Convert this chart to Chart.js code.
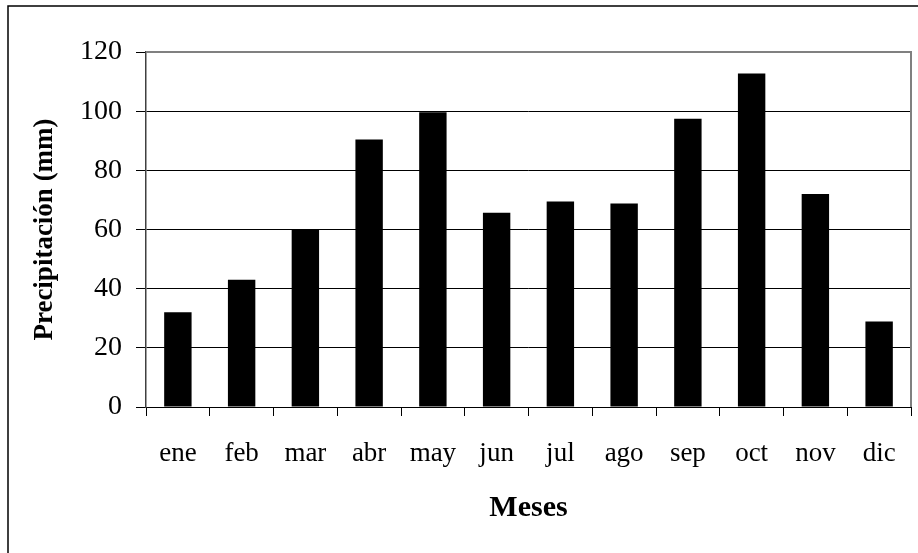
<!DOCTYPE html>
<html>
<head>
<meta charset="utf-8">
<style>
  html, body { margin: 0; padding: 0; background: #fff; }
  #chart { display: block; }
</style>
<script src="https://cdn.jsdelivr.net/npm/chart.js@4"></script>
</head>
<body>
<canvas id="chart" width="918" height="553"></canvas>
<script>
const meses = ['ene', 'feb', 'mar', 'abr', 'may', 'jun', 'jul', 'ago', 'sep', 'oct', 'nov', 'dic'];
const precipitacion = [32, 43, 60, 90.4, 99.6, 65.7, 69.5, 68.8, 97.4, 112.7, 72, 28.9];
const yTicks = [0, 20, 40, 60, 80, 100, 120];

const serif = "'Liberation Serif', 'Times New Roman', serif";

// outer black frame (cropped on right/bottom) and grey plot frame
const frames = {
  id: 'frames',
  beforeDraw(chart) {
    const ctx = chart.ctx;
    ctx.save();
    ctx.fillStyle = '#fff';
    ctx.fillRect(0, 0, chart.width, chart.height);
    ctx.strokeStyle = '#000';
    ctx.lineWidth = 1.5;
    ctx.beginPath();
    ctx.moveTo(8, chart.height + 5);
    ctx.lineTo(8, 6);
    ctx.lineTo(chart.width + 5, 6);
    ctx.stroke();
    ctx.restore();
  },
  afterDatasetsDraw(chart) {
    const a = chart.chartArea;
    const ctx = chart.ctx;
    ctx.save();
    ctx.strokeStyle = '#808080';
    ctx.lineWidth = 2;
    ctx.beginPath();
    ctx.moveTo(a.left, a.top);
    ctx.lineTo(a.right, a.top);
    ctx.lineTo(a.right, a.bottom);
    ctx.stroke();
    ctx.restore();
  }
};

new Chart(document.getElementById('chart'), {
  type: 'bar',
  data: {
    labels: meses,
    datasets: [{
      data: precipitacion,
      backgroundColor: '#000',
      borderColor: '#000',
      borderWidth: 0,
      categoryPercentage: 1,
      barPercentage: 0.43
    }]
  },
  options: {
    responsive: false,
    animation: false,
    layout: { padding: { left: 0, right: 7, top: 52, bottom: 0 } },
    plugins: { legend: { display: false }, tooltip: { enabled: false } },
    scales: {
      x: {
        afterFit(s) { s.height = 146; },
        grid: { drawOnChartArea: false, drawTicks: true, tickLength: 9, color: '#000', offset: true },
        border: { color: '#000', width: 1 },
        ticks: { color: '#000', padding: 22, font: { family: serif, size: 27 } },
        title: {
          display: true, text: 'Meses', color: '#000',
          font: { family: serif, size: 30, weight: 'bold' },
          padding: { top: 0, bottom: 27 }
        }
      },
      y: {
        min: 0,
        max: 120,
        afterFit(s) { s.width = 146; },
        afterBuildTicks(s) { s.ticks = yTicks.map(v => ({ value: v })); },
        grid: { color: '#000', lineWidth: 1, tickLength: 10 },
        border: { color: '#404040', width: 1.5 },
        ticks: { color: '#000', padding: 14, font: { family: serif, size: 28 } },
        title: {
          display: true, text: 'Precipitación (mm)', color: '#000',
          font: { family: serif, size: 27, weight: 'bold' },
          padding: { top: 29, bottom: 0 }
        }
      }
    }
  },
  plugins: [frames]
});
</script>
</body>
</html>
